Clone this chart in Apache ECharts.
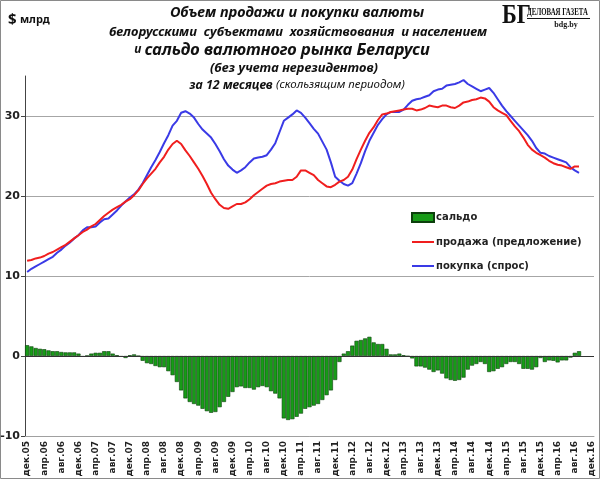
<!DOCTYPE html>
<html>
<head>
<meta charset="utf-8">
<script src="https://cdn.jsdelivr.net/npm/echarts@6/dist/echarts.min.js"></script>
<style>
html,body{margin:0;padding:0;background:#fff;}
#chart{width:600px;height:479px;}
</style>
</head>
<body>
<div id="chart"></div>
<script>
// ---- data ----
const monthNames = ['янв','фев','мар','апр','май','июн','июл','авг','сен','окт','ноя','дек'];
const startMonthIndex = 11;   // дек
const startYear = 5;          // 2005
const monthCount = 133;       // дек.05 .. дек.16

const categories = [];
for (let k = 0; k < monthCount; k++) {
  const m = (startMonthIndex + k) % 12;
  const y = startYear + Math.floor((startMonthIndex + k) / 12);
  categories.push(monthNames[m] + '.' + String(y).padStart(2, '0'));
}

const seriesNames = ['сальдо', 'продажа (предложение)', 'покупка (спрос)'];

const saldo = [
  1.35,1.2,1.0,0.9,0.85,0.7,0.6,0.6,0.5,0.45,
  0.45,0.45,0.3,-0.1,0.05,0.3,0.4,0.4,0.6,0.6,
  0.3,0.1,-0.1,-0.25,0.1,0.2,0.0,-0.6,-0.9,-1.0,
  -1.25,-1.4,-1.4,-1.9,-2.4,-3.25,-4.3,-5.3,-5.75,-6.0,
  -6.2,-6.6,-6.9,-7.1,-7.0,-6.4,-5.75,-5.1,-4.5,-3.9,
  -3.8,-4.0,-4.0,-4.2,-3.9,-3.75,-3.9,-4.4,-4.7,-5.3,
  -7.8,-8.0,-7.9,-7.6,-7.2,-6.6,-6.4,-6.2,-6.0,-5.5,
  -4.9,-4.3,-3.0,-0.75,0.3,0.6,1.3,1.9,2.0,2.2,
  2.4,1.7,1.5,1.5,0.9,0.2,0.2,0.3,0.1,-0.05,
  -0.3,-1.3,-1.3,-1.45,-1.7,-2.0,-1.8,-2.2,-2.8,-3.0,
  -3.1,-3.0,-2.7,-1.7,-1.2,-1.0,-0.75,-1.0,-2.0,-1.9,
  -1.6,-1.4,-1.0,-0.75,-0.75,-1.0,-1.6,-1.6,-1.7,-1.4,
  -0.25,-0.75,-0.55,-0.6,-0.8,-0.55,-0.55,-0.2,0.4,0.6
];

const sales = [
  11.9,12.0,12.2,12.3,12.5,12.8,13.0,13.3,13.6,13.9,
  14.3,14.7,15.1,15.5,15.8,16.2,16.5,17.0,17.5,17.9,
  18.3,18.6,18.9,19.3,19.6,20.1,20.7,21.5,22.2,22.8,
  23.4,24.2,24.9,25.8,26.5,26.9,26.5,25.7,25.0,24.2,
  23.4,22.5,21.5,20.4,19.6,18.9,18.5,18.4,18.7,19.0,
  19.0,19.2,19.6,20.1,20.5,20.9,21.3,21.5,21.6,21.8,
  21.9,22.0,22.0,22.4,23.2,23.2,22.9,22.6,22.0,21.6,
  21.2,21.1,21.4,21.8,22.0,22.4,23.3,24.6,25.8,26.9,
  27.9,28.6,29.5,30.2,30.3,30.5,30.6,30.7,30.8,30.9,
  30.9,30.7,30.8,31.0,31.3,31.2,31.1,31.3,31.3,31.1,
  31.0,31.3,31.7,31.8,32.0,32.1,32.3,32.2,31.8,31.1,
  30.7,30.4,30.1,29.4,28.7,28.1,27.3,26.4,25.8,25.4,
  25.1,24.8,24.4,24.1,23.9,23.8,23.6,23.4,23.7,23.7
];

const purchases = [
  10.5,10.9,11.2,11.5,11.8,12.1,12.4,12.9,13.3,13.8,
  14.2,14.7,15.1,15.7,16.1,16.1,16.2,16.7,17.1,17.2,
  17.7,18.2,18.8,19.3,19.8,20.2,20.8,21.6,22.6,23.6,
  24.5,25.5,26.6,27.6,28.8,29.4,30.4,30.6,30.3,29.8,
  29.0,28.3,27.8,27.3,26.5,25.6,24.6,23.8,23.3,22.9,
  23.2,23.6,24.2,24.7,24.8,24.9,25.1,25.8,26.6,28.0,
  29.4,29.8,30.2,30.7,30.4,29.8,29.1,28.4,27.8,26.8,
  25.8,24.2,22.4,21.9,21.5,21.3,21.6,22.8,24.1,25.6,
  26.9,27.9,28.9,29.6,30.2,30.5,30.5,30.5,30.8,31.4,
  31.9,32.1,32.2,32.4,32.6,33.1,33.3,33.4,33.8,33.9,
  34.0,34.2,34.5,34.0,33.7,33.4,33.1,33.3,33.5,32.9,
  32.1,31.3,30.6,30.0,29.4,28.8,28.2,27.6,26.9,26.0,
  25.4,25.3,25.0,24.8,24.6,24.4,24.2,23.6,23.2,22.9
];

const yMin = -10, yMax = 35, yStep = 10;

// ---- chart ----
const chart = echarts.init(document.getElementById('chart'), null, {renderer: 'canvas'});
const titleFont = '"Noto Sans", "DejaVu Sans", sans-serif';
const axisFont = '"DejaVu Sans", sans-serif';
const lineIcon = 'path://M0,0 L22,0 L22,2 L0,2 Z';

const option = {
  backgroundColor: '#ffffff',
  animation: false,
  grid: {left: 25, right: 6, top: 76, bottom: 43, containLabel: false, outerBoundsMode: 'none'},
  legend: {
    orient: 'vertical',
    left: 411, top: 212, padding: 0,
    itemWidth: 22, itemHeight: 9, itemGap: 14,
    data: [
      {name: seriesNames[0], icon: 'rect'},
      {name: seriesNames[1], icon: lineIcon},
      {name: seriesNames[2], icon: lineIcon}
    ],
    textStyle: {fontFamily: axisFont, fontWeight: 'bold', fontSize: 10, color: '#222', padding: [0,0,0,-3]}
  },
  xAxis: {
    type: 'category',
    data: categories,
    boundaryGap: true,
    axisLine: {onZero: false, lineStyle: {color: '#a0a0a0', width: 1}},
    axisTick: {show: false},
    splitLine: {show: false},
    axisLabel: {
      interval: 3, rotate: 90, margin: 5,
      fontFamily: axisFont, fontWeight: 'bold', fontSize: 9, color: '#222'
    }
  },
  yAxis: {
    type: 'value',
    min: yMin, max: yMax, interval: yStep,
    axisLine: {show: true, onZero: false, lineStyle: {color: '#444', width: 1}},
    axisTick: {show: true, length: 4, lineStyle: {color: '#444'}},
    axisLabel: {showMaxLabel: false, margin: 5, fontFamily: axisFont, fontWeight: 'bold', fontSize: 11, color: '#222'},
    splitLine: {show: true, showMaxLine: false, lineStyle: {color: '#a6a6a6', width: 1}}
  },
  series: [
    {
      name: seriesNames[0], type: 'bar', data: saldo,
      barCategoryGap: '4%',
      itemStyle: {color: '#179b17', borderColor: '#0c3f0c', borderWidth: 0.6},
      markLine: {
        silent: true, symbol: 'none',
        label: {show: false},
        lineStyle: {color: '#333', width: 1, type: 'solid'},
        data: [{yAxis: 0}]
      },
      z: 2
    },
    {
      name: seriesNames[1], type: 'line', data: sales,
      symbol: 'none', showSymbol: false,
      lineStyle: {color: '#f01e1e', width: 2}, itemStyle: {color: '#f01e1e'}, z: 4
    },
    {
      name: seriesNames[2], type: 'line', data: purchases,
      symbol: 'none', showSymbol: false,
      lineStyle: {color: '#3a3ae6', width: 2}, itemStyle: {color: '#3a3ae6'}, z: 3
    }
  ],
  graphic: [
    {type: 'rect', silent: true, z: -10, shape: {x: 0.5, y: 0.5, width: 599, height: 478},
     style: {fill: 'none', stroke: '#8a8a8a', lineWidth: 1}},
    {type: 'text', x: 8, y: 20, style: {
      text: '{d|$} {m|млрд}', align: 'left', verticalAlign: 'middle',
      rich: {
        d: {fontSize: 15, fontWeight: 'bold', fontFamily: titleFont, fill: '#111'},
        m: {fontSize: 11, fontWeight: 'bold', fontFamily: titleFont, fill: '#111'}
      }}},
    {type: 'text', x: 297, y: 13, style: {
      text: 'Объем продажи и покупки валюты', align: 'center', verticalAlign: 'middle',
      font: 'italic bold 14.5px ' + titleFont, fill: '#111'}},
    {type: 'text', x: 298, y: 32, style: {
      text: 'белорусскими  субъектами  хозяйствования  и населением', align: 'center', verticalAlign: 'middle',
      font: 'italic bold 13px ' + titleFont, fill: '#111'}},
    {type: 'text', x: 282, y: 50, style: {
      text: '{a|и} {b|сальдо валютного рынка Беларуси}', align: 'center', verticalAlign: 'middle',
      rich: {
        a: {fontSize: 12, fontWeight: 'bold', fontStyle: 'italic', fontFamily: titleFont, fill: '#111'},
        b: {fontSize: 16.5, fontWeight: 'bold', fontStyle: 'italic', fontFamily: titleFont, fill: '#111'}
      }}},
    {type: 'text', x: 294, y: 68, style: {
      text: '(без учета нерезидентов)', align: 'center', verticalAlign: 'middle',
      font: 'italic bold 13px ' + titleFont, fill: '#111'}},
    {type: 'text', x: 297, y: 85, style: {
      text: '{a|за 12 месяцев} {b|(скользящим периодом)}', align: 'center', verticalAlign: 'middle',
      rich: {
        a: {fontSize: 12.5, fontWeight: 'bold', fontStyle: 'italic', fontFamily: titleFont, fill: '#111'},
        b: {fontSize: 11.5, fontWeight: 'normal', fontStyle: 'italic', fontFamily: titleFont, fill: '#111'}
      }}},
    {type: 'text', x: 502, y: 16, scaleX: 0.8, style: {
      text: 'БГ', align: 'left', verticalAlign: 'middle',
      font: 'bold 28px "Liberation Serif", serif', fill: '#111'}},
    {type: 'text', x: 527, y: 12, scaleX: 0.62, style: {
      text: 'ДЕЛОВАЯ ГАЗЕТА', align: 'left', verticalAlign: 'middle',
      font: 'bold 11px "Liberation Serif", serif', fill: '#111'}},
    {type: 'line', silent: true, shape: {x1: 527, y1: 18.5, x2: 590, y2: 18.5}, style: {stroke: '#111', lineWidth: 1}},
    {type: 'text', x: 566, y: 25, style: {
      text: 'bdg.by', align: 'center', verticalAlign: 'middle',
      font: 'bold 8px "Liberation Serif", serif', fill: '#111'}}
  ]
};
chart.setOption(option);
</script>
</body>
</html>
